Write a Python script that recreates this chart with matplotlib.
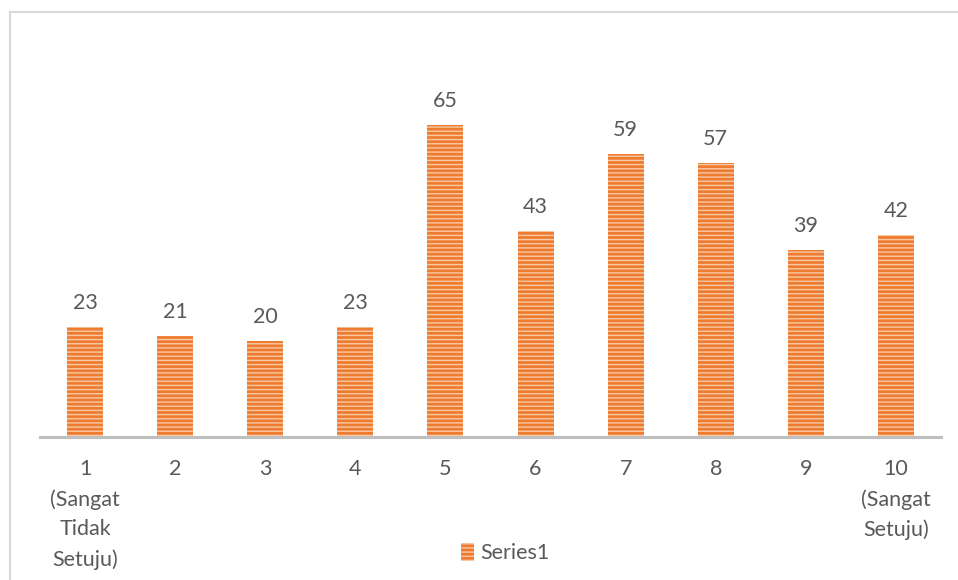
import matplotlib
matplotlib.use("Agg")
import matplotlib.pyplot as plt
from matplotlib.lines import Line2D

categories = ["1\n(Sangat\nTidak\nSetuju)", "2", "3", "4", "5", "6", "7", "8", "9",
              "10\n(Sangat\nSetuju)"]
values = [23, 21, 20, 23, 65, 43, 59, 57, 39, 42]
series_name = "Series1"

plt.rcParams['font.family'] = ['Lato', 'DejaVu Sans']
plt.rcParams['hatch.linewidth'] = 1.0

W, H = 958, 580
fig = plt.figure(figsize=(W / 100, H / 100), dpi=100)
fig.patch.set_facecolor("white")

# outer chart border (left and top edges visible)
fig.add_artist(Line2D([10 / W, 10 / W], [0, 1 - 12 / H], transform=fig.transFigure,
                      color="#D9D9D9", lw=1.5))
fig.add_artist(Line2D([10 / W, 1], [1 - 12 / H, 1 - 12 / H], transform=fig.transFigure,
                      color="#D9D9D9", lw=1.5))

left, right = 40 / W, 941 / W
bottom = 1 - 437 / H
top = 1 - 101 / H
ax = fig.add_axes([left, bottom, right - left, top - bottom])

x = list(range(len(values)))
bars = ax.bar(x, values, width=0.4, color="#EE7C30", edgecolor="#F9C8A4",
              linewidth=0, hatch="----", label=series_name)

for xi, v in zip(x, values):
    ax.text(xi, v + 2.9, str(v), ha="center", va="bottom", fontsize=15.5, color="#595959")

ax.set_xlim(-0.5, len(values) - 0.5)
ax.set_ylim(0, 70)
ax.set_yticks([])
ax.set_xticks(x)
ax.set_xticklabels(categories, fontsize=15.5, color="#595959", linespacing=1.6)
ax.tick_params(axis="x", length=0, pad=16)
for s in ["top", "right", "left"]:
    ax.spines[s].set_visible(False)
ax.spines["bottom"].set_color("#BFBFBF")
ax.spines["bottom"].set_linewidth(2.2)

leg = fig.legend(handles=[bars], labels=[series_name], loc="center",
                 bbox_to_anchor=(505 / W, 1 - 553 / H), frameon=False, fontsize=15.5,
                 handlelength=0.6, handleheight=0.9, handletextpad=0.3)
for t in leg.get_texts():
    t.set_color("#595959")

fig.savefig("out.png", dpi=100, facecolor="white")
